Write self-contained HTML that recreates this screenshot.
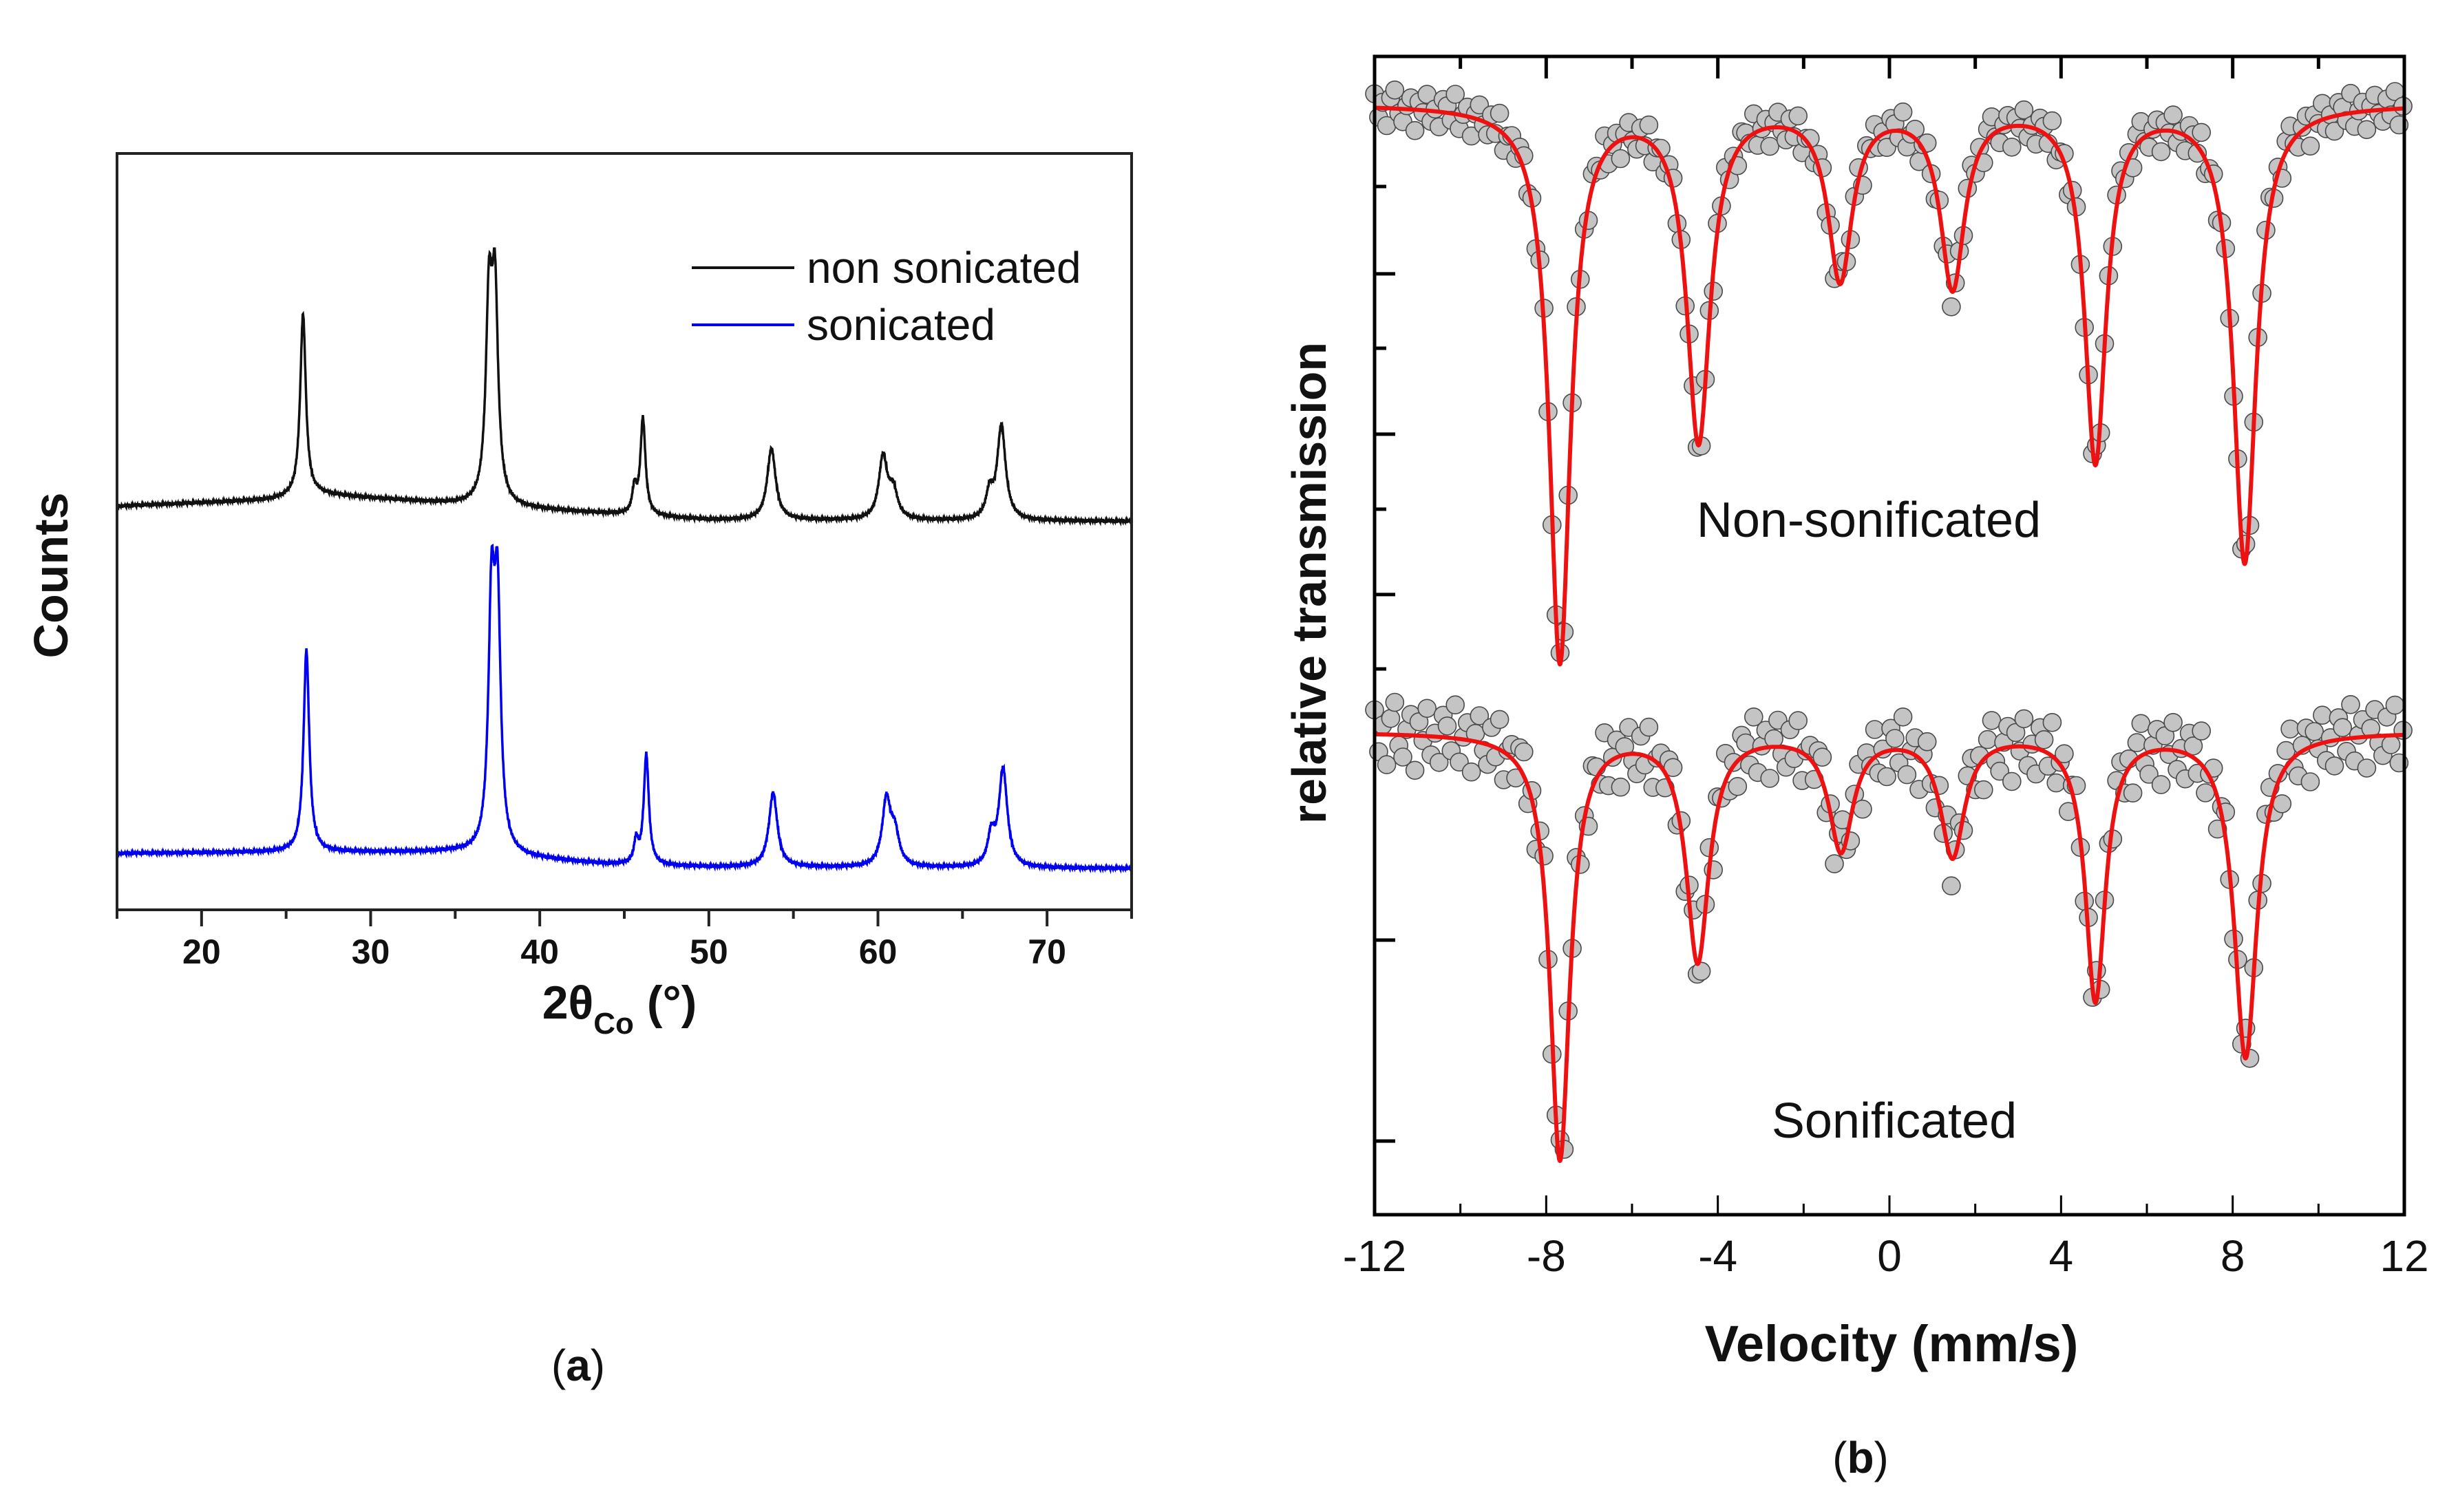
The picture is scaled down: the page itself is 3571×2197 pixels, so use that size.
<!DOCTYPE html>
<html><head><meta charset="utf-8"><style>
html,body{margin:0;padding:0;background:#fff;}
svg{display:block;}
text{font-family:"Liberation Sans",sans-serif;}
</style></head>
<body>
<svg id="fig" width="3571" height="2197" viewBox="0 0 3571 2197" xmlns="http://www.w3.org/2000/svg">
<rect width="3571" height="2197" fill="#fff"/>
<g id="pa"></g>
<g id="pb"></g>
</svg>
<script>
// ---------- Panel (a) XRD data ----------
const xrdTicks = [20,30,40,50,60,70];
const xrdMinor = [15,25,35,45,55,65,75];
const blackBaseX = [15,24,27,35,44,50,75];
const blackBaseY = [587,596,604,590,576,567,565];
const blackPeakPos = [26.0,37.0,37.35,45.6,46.1,53.7,60.3,60.9,66.6,67.3];
const blackPeakH   = [265,280,290,36,140,104,90,40,36,136];
const blackPeakW   = [0.2,0.22,0.22,0.15,0.18,0.3,0.3,0.3,0.25,0.3];
const blueBaseX = [15,25,35,44,50,75];
const blueBaseY = [82,84,84,66,62,60];
const bluePeakPos = [26.2,37.15,37.5,45.7,46.3,53.8,60.5,61.0,66.7,67.4];
const bluePeakH   = [294,345,345,32,160,108,95,45,42,142];
const bluePeakW   = [0.2,0.22,0.22,0.15,0.18,0.3,0.3,0.3,0.25,0.3];
const xrdNoise = [1,-2,2,0,-1,3,-2,1,-3,2,0,-1,2,-2,1,0,-3,2,1,-1,2,-2,0,1,-1,3,-1,-2,2,0];

// ---------- Panel (b) Mossbauer data ----------
const velTicks = [-12,-8,-4,0,4,8,12];
const velMinor = [-10,-6,-2,2,6,10];
const tMajor = [81.23,67.39,53.54,23.71,6.36];
const tMinor = [88.77,74.81,60.91,47.12];
const nsBase = 95.9;
const nsCenters = [-7.68,-4.45,-1.15,1.47,4.8,8.28];
const nsDepths  = [48.0,28.8,14.8,15.5,30.6,39.4];
const nsWidths  = [0.3,0.33,0.34,0.34,0.3,0.32];
const sBase = 41.7;
const sCenters = [-7.68,-4.47,-1.13,1.47,4.8,8.3];
const sDepths  = [36.8,19.6,10.0,10.5,23.0,28.0];
const sWidths  = [0.28,0.32,0.34,0.34,0.28,0.32];
const nsResid = [1.2,-0.8,0.5,-1.5,0.9,1.6,-0.4,-1.1,0.3,1.0,-1.8,0.7,-0.2,1.4,-0.9,0.2,-1.3,1.1,0.6,-0.6,1.7,-1.2,0.1,0.8,-1.6,0.4,1.3,-0.3,-1.0,0.9,-0.5,1.5,-1.4,0.2,0.7,-0.7,1.0];
const sResid = [2.1,-1.5,0.8,-2.6,1.4,2.8,-0.9,-1.9,0.5,1.8,-3.0,1.2,-0.4,2.4,-1.6,0.3,-2.2,1.9,1.0,-1.1,2.9,-2.0,0.2,1.5,-2.7,0.7,2.3,-0.6,-1.7,1.6,-0.8,2.6,-2.4,0.4,1.2,-1.3,1.8];

const NS = "http://www.w3.org/2000/svg";
function mk(parent, tag, attrs, name, txt){
  const e = document.createElementNS(NS, tag);
  for (const k in attrs) e.setAttribute(k, attrs[k]);
  
  
  if (txt !== undefined) e.textContent = txt;
  parent.appendChild(e);
  return e;
}
function interp(xs, ys, x){
  if (x <= xs[0]) return ys[0];
  for (let i=1;i<xs.length;i++){ if (x<=xs[i]){ const t=(x-xs[i-1])/(xs[i]-xs[i-1]); return ys[i-1]+t*(ys[i]-ys[i-1]); } }
  return ys[ys.length-1];
}
function lor(x, c, h, w){ const u=(x-c)/w; return h/(1+u*u); }

// ---------- Draw panel (a) ----------
const pa = document.getElementById('pa');
const AL=170, AR=1644, AT=223, AB=1322;
const ax = v => AL + (v-15)/(75-15)*(AR-AL);
const ay = v => AB - v/1100*(AB-AT);
function xrdPath(bx, by, pp, ph, pw){
  let d=''; let i=0;
  for (let x=15; x<=75.0001; x+=0.02){
    let y = interp(bx, by, x);
    for (let k=0;k<pp.length;k++) y += lor(x, pp[k], ph[k], pw[k]);
    y += xrdNoise[i % xrdNoise.length]; i++;
    d += (d?'L':'M') + ax(x).toFixed(1) + ' ' + ay(y).toFixed(1);
  }
  return d;
}
mk(pa,'path',{d:xrdPath(blackBaseX,blackBaseY,blackPeakPos,blackPeakH,blackPeakW),fill:'none',stroke:'#111',"stroke-width":3.5},'non-sonicated-line');
mk(pa,'path',{d:xrdPath(blueBaseX,blueBaseY,bluePeakPos,bluePeakH,bluePeakW),fill:'none',stroke:'#0000ee',"stroke-width":3.5},'sonicated-line');
mk(pa,'rect',{x:AL,y:AT,width:AR-AL,height:AB-AT,fill:'none',stroke:'#222',"stroke-width":4},'plot-frame-a');
xrdTicks.forEach(v=>{
  mk(pa,'line',{x1:ax(v),y1:AB,x2:ax(v),y2:AB+24,stroke:'#222',"stroke-width":4},'x-tick-a');
  mk(pa,'text',{x:ax(v),y:1400,"text-anchor":"middle","font-size":50,"font-weight":"bold",fill:'#111'},'x-tick-label-a',String(v));
});
xrdMinor.forEach(v=>{
  mk(pa,'line',{x1:ax(v),y1:AB,x2:ax(v),y2:AB+13,stroke:'#222',"stroke-width":4},'x-minor-tick-a');
});
const xt = mk(pa,'text',{x:900,y:1480,"text-anchor":"middle","font-size":68,"font-weight":"bold",fill:'#111'},'x-axis-title-a');
xt.innerHTML = '2θ<tspan font-size="44" dy="22" font-weight="bold">Co</tspan><tspan dy="-22"> (°)</tspan>';
mk(pa,'text',{x:0,y:0,transform:'translate(98,836) rotate(-90)',"text-anchor":"middle","font-size":70,"font-weight":"bold",fill:'#111'},'y-axis-title-a','Counts');
mk(pa,'line',{x1:1005,y1:389,x2:1154,y2:389,stroke:'#111',"stroke-width":4},'legend-swatch-non-sonicated');
mk(pa,'text',{x:1172,y:411,"font-size":64,fill:'#111'},'legend-label-non-sonicated','non sonicated');
mk(pa,'line',{x1:1005,y1:472,x2:1154,y2:472,stroke:'#0000ee',"stroke-width":4},'legend-swatch-sonicated');
mk(pa,'text',{x:1172,y:494,"font-size":64,fill:'#111'},'legend-label-sonicated','sonicated');
const la = mk(pa,'text',{x:840,y:2006,"text-anchor":"middle","font-size":64,fill:'#111',"font-family":'"Liberation Serif",serif'},'panel-label-a');
la.innerHTML = '(<tspan font-weight="bold">a</tspan>)';

// ---------- Draw panel (b) ----------
const pb = document.getElementById('pb');
const BL=1997, BR=3493, BT=82, BB=1765;
const bx = v => BL + (v+12)/24*(BR-BL);
const by = v => BB - v/100*(BB-BT);
function moss(x, base, cs, ds, ws){ let y=base; for (let k=0;k<cs.length;k++) y -= lor(x, cs[k], ds[k], ws[k]); return y; }
function drawSeries(base, cs, ds, ws, resid, nm){
  const g = mk(pb,'g',{},nm+'-points');
  let i=0;
  for (let x=-12; x<=12.0001; x+=0.094){
    const y = moss(x, base, cs, ds, ws) + resid[i % resid.length]; i++;
    mk(g,'circle',{cx:bx(x).toFixed(1),cy:by(y).toFixed(1),r:13,fill:'#c4c4c4',stroke:'#4a4a4a',"stroke-width":1.6},nm+'-point');
  }
  let d='';
  for (let x=-12; x<=12.0001; x+=0.01){
    d += (d?'L':'M') + bx(x).toFixed(1) + ' ' + by(moss(x, base, cs, ds, ws)).toFixed(1);
  }
  mk(pb,'path',{d:d,fill:'none',stroke:'#ee1111',"stroke-width":6,"stroke-linejoin":"round"},nm+'-fit-line');
}
drawSeries(nsBase, nsCenters, nsDepths, nsWidths, nsResid, 'non-sonificated');
drawSeries(sBase, sCenters, sDepths, sWidths, sResid, 'sonificated');
mk(pb,'rect',{x:BL,y:BT,width:BR-BL,height:BB-BT,fill:'none',stroke:'#000',"stroke-width":5},'plot-frame-b');
velTicks.concat(velMinor).forEach(v=>{
  const major = velTicks.indexOf(v)>=0;
  mk(pb,'line',{x1:bx(v),y1:BB,x2:bx(v),y2:BB-(major?28:16),stroke:'#000',"stroke-width":3},'x-tick-b');
  mk(pb,'line',{x1:bx(v),y1:BT,x2:bx(v),y2:BT+(major?32:18),stroke:'#000',"stroke-width":5},'top-tick-b');
});
velTicks.forEach(v=>{
  mk(pb,'text',{x:bx(v),y:1847,"text-anchor":"middle","font-size":64,fill:'#111'},'x-tick-label-b',String(v));
});
tMajor.forEach(v=>mk(pb,'line',{x1:BL,y1:by(v),x2:BL+30,y2:by(v),stroke:'#000',"stroke-width":5},'y-tick-b'));
tMinor.forEach(v=>mk(pb,'line',{x1:BL,y1:by(v),x2:BL+17,y2:by(v),stroke:'#000',"stroke-width":5},'y-minor-tick-b'));
mk(pb,'text',{x:2748,y:1978,"text-anchor":"middle","font-size":74,"font-weight":"bold",fill:'#111'},'x-axis-title-b','Velocity (mm/s)');
mk(pb,'text',{x:0,y:0,transform:'translate(1926,847) rotate(-90)',"text-anchor":"middle","font-size":70,"font-weight":"bold",fill:'#111'},'y-axis-title-b','relative transmission');
mk(pb,'text',{x:2715,y:780,"text-anchor":"middle","font-size":72,fill:'#111'},'annotation-non-sonificated','Non-sonificated');
mk(pb,'text',{x:2752,y:1653,"text-anchor":"middle","font-size":72,fill:'#111'},'annotation-sonificated','Sonificated');
const lb = mk(pb,'text',{x:2703,y:2140,"text-anchor":"middle","font-size":64,fill:'#111',"font-family":'"Liberation Serif",serif'},'panel-label-b');
lb.innerHTML = '(<tspan font-weight="bold">b</tspan>)';
</script>
</body></html>
